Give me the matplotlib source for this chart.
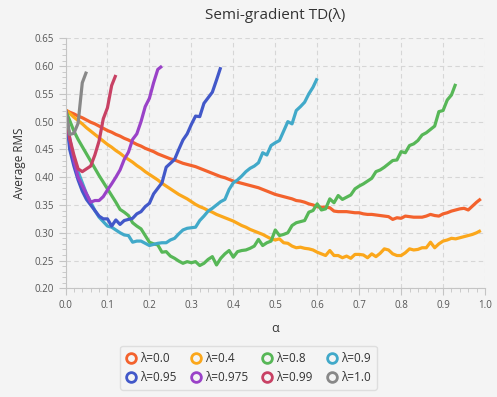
import numpy as np
import matplotlib.pyplot as plt
from matplotlib.lines import Line2D
from matplotlib.ticker import MultipleLocator, FormatStrFormatter

# DATA
# ============================================================================
alphas = np.round(np.arange(0, 1.0, 0.01), 2)

labels = ['λ=0.0', 'λ=0.4', 'λ=0.8', 'λ=0.9',
          'λ=0.95', 'λ=0.975', 'λ=0.99', 'λ=1.0']

rms_00 = [0.521, 0.517, 0.514, 0.510, 0.507, 0.503, 0.499, 0.496, 0.492, 0.488,
          0.484, 0.481, 0.477, 0.474, 0.470, 0.467, 0.463, 0.459, 0.456, 0.452,
          0.449, 0.446, 0.442, 0.439, 0.436, 0.433, 0.431, 0.428, 0.425, 0.423,
          0.421, 0.419, 0.416, 0.413, 0.410, 0.407, 0.404, 0.401, 0.399, 0.396,
          0.393, 0.391, 0.389, 0.387, 0.385, 0.383, 0.381, 0.378, 0.375, 0.372,
          0.369, 0.367, 0.365, 0.363, 0.361, 0.358, 0.357, 0.355, 0.352, 0.350,
          0.347, 0.346, 0.346, 0.345, 0.339, 0.338, 0.338, 0.338, 0.337, 0.336,
          0.336, 0.334, 0.333, 0.333, 0.332, 0.331, 0.330, 0.329, 0.324, 0.327,
          0.326, 0.330, 0.329, 0.328, 0.328, 0.328, 0.330, 0.333, 0.331, 0.330,
          0.334, 0.336, 0.339, 0.341, 0.343, 0.344, 0.341, 0.348, 0.355, 0.361]

rms_04 = [0.521, 0.515, 0.508, 0.502, 0.496, 0.489, 0.483, 0.477, 0.471, 0.465,
          0.459, 0.454, 0.448, 0.443, 0.437, 0.432, 0.427, 0.421, 0.416, 0.410,
          0.405, 0.400, 0.395, 0.389, 0.384, 0.379, 0.374, 0.369, 0.365, 0.361,
          0.356, 0.351, 0.347, 0.344, 0.340, 0.337, 0.333, 0.330, 0.327, 0.324,
          0.321, 0.317, 0.313, 0.310, 0.306, 0.303, 0.300, 0.297, 0.293, 0.289,
          0.287, 0.289, 0.282, 0.281, 0.276, 0.273, 0.274, 0.272, 0.271, 0.269,
          0.265, 0.262, 0.259, 0.268, 0.259, 0.259, 0.255, 0.258, 0.254, 0.261,
          0.261, 0.260, 0.255, 0.262, 0.257, 0.263, 0.271, 0.269, 0.262, 0.259,
          0.259, 0.264, 0.271, 0.269, 0.270, 0.273, 0.273, 0.283, 0.273, 0.280,
          0.285, 0.287, 0.290, 0.289, 0.291, 0.293, 0.295, 0.297, 0.300, 0.304]

rms_08 = [0.521, 0.502, 0.483, 0.468, 0.455, 0.442, 0.429, 0.416, 0.403, 0.391,
          0.379, 0.367, 0.355, 0.342, 0.337, 0.331, 0.318, 0.312, 0.307, 0.295,
          0.283, 0.280, 0.278, 0.265, 0.266, 0.258, 0.254, 0.249, 0.245, 0.248,
          0.246, 0.248, 0.241, 0.245, 0.252, 0.257, 0.242, 0.254, 0.262, 0.268,
          0.256, 0.266, 0.268, 0.269, 0.272, 0.276, 0.288, 0.277, 0.282, 0.285,
          0.305, 0.295, 0.297, 0.300, 0.313, 0.318, 0.320, 0.322, 0.337, 0.340,
          0.352, 0.341, 0.343, 0.361, 0.354, 0.367, 0.360, 0.364, 0.368, 0.379,
          0.384, 0.388, 0.393, 0.398, 0.410, 0.413, 0.418, 0.424, 0.430, 0.431,
          0.446, 0.444, 0.457, 0.460, 0.466, 0.476, 0.480, 0.486, 0.492, 0.518,
          0.520, 0.539, 0.548, 0.568]

rms_09 = [0.521, 0.460, 0.430, 0.410, 0.390, 0.370, 0.355, 0.340, 0.328, 0.320,
          0.312, 0.310, 0.305, 0.300, 0.296, 0.295, 0.283, 0.285, 0.285, 0.281,
          0.277, 0.279, 0.281, 0.282, 0.282, 0.287, 0.290, 0.298, 0.305, 0.308,
          0.309, 0.310, 0.322, 0.330, 0.339, 0.344, 0.350, 0.356, 0.360, 0.378,
          0.390, 0.395, 0.402, 0.410, 0.416, 0.420, 0.426, 0.444, 0.440, 0.457,
          0.462, 0.466, 0.483, 0.500, 0.496, 0.520, 0.527, 0.535, 0.550, 0.562,
          0.578]

rms_095 = [0.521, 0.450, 0.420, 0.395, 0.375, 0.360, 0.350, 0.340, 0.330, 0.325,
           0.325, 0.312, 0.323, 0.315, 0.322, 0.324, 0.326, 0.334, 0.338, 0.347,
           0.353, 0.370, 0.380, 0.390, 0.418, 0.425, 0.432, 0.450, 0.467, 0.478,
           0.495, 0.510, 0.509, 0.533, 0.543, 0.553, 0.575, 0.598]

rms_0975 = [0.521, 0.470, 0.430, 0.400, 0.385, 0.370, 0.355, 0.358, 0.358, 0.365,
            0.377, 0.388, 0.400, 0.413, 0.432, 0.445, 0.468, 0.478, 0.500, 0.527,
            0.542, 0.570, 0.594, 0.600]

rms_099 = [0.521, 0.470, 0.440, 0.415, 0.410, 0.415, 0.420, 0.440, 0.465, 0.505,
           0.525, 0.565, 0.584]

rms_10 = [0.521, 0.477, 0.479, 0.497, 0.570, 0.590]

series = [rms_00, rms_04, rms_08, rms_09, rms_095, rms_0975, rms_099, rms_10]
colors = ['#f3622d', '#fba71b', '#57b757', '#41a9c9',
          '#4258c9', '#9a42c8', '#c84164', '#888888']
# ============================================================================

bg = '#f4f4f4'
plt.rcParams['font.family'] = ['Open Sans', 'DejaVu Sans']

fig = plt.figure(figsize=(4.97, 3.97), dpi=100, facecolor=bg)
ax = fig.add_axes([0.1318, 0.2738, 0.8441, 0.6297], facecolor=bg)

for vals, col in zip(series, colors):
    ax.plot(alphas[:len(vals)], vals, color=col, linewidth=2.3,
            solid_joinstyle='round', solid_capstyle='butt')

ax.set_xlim(0, 1.0)
ax.set_ylim(0.20, 0.65)
ax.xaxis.set_major_locator(MultipleLocator(0.1))
ax.xaxis.set_minor_locator(MultipleLocator(0.02))
ax.yaxis.set_major_locator(MultipleLocator(0.05))
ax.yaxis.set_minor_locator(MultipleLocator(0.01))
ax.xaxis.set_major_formatter(FormatStrFormatter('%.1f'))
ax.yaxis.set_major_formatter(FormatStrFormatter('%.2f'))

ax.grid(True, which='major', color='#d6d6d6', linestyle=(0, (4, 3)), linewidth=0.8)
for s in ['top', 'right']:
    ax.spines[s].set_visible(False)
for s in ['left', 'bottom']:
    ax.spines[s].set_color('#c4c4c4')
ax.tick_params(which='major', length=5, color='#c4c4c4', labelsize=7, labelcolor='#555555')
ax.tick_params(which='minor', length=3, color='#c4c4c4')

ax.set_title('Semi-gradient TD(λ)', fontsize=11, color='#333333', pad=14)
ax.set_xlabel('α', fontsize=9, color='#333333', labelpad=8)
ax.set_ylabel('Average RMS', fontsize=8.5, color='#333333', labelpad=6)

# legend fills column by column, so reorder to get the rows right
order = [0, 4, 1, 5, 2, 6, 3, 7]
handles = [Line2D([], [], linestyle='none', marker='o', markersize=7,
                  markerfacecolor=bg, markeredgecolor=colors[i], markeredgewidth=2)
           for i in order]
leg = fig.legend(handles, [labels[i] for i in order], ncol=4, loc='upper center',
                 bbox_to_anchor=(0.50, 1 - 340 / 397), fontsize=8.5,
                 frameon=True, facecolor=bg, edgecolor='#d9d9d9',
                 handlelength=0.8, handletextpad=0.4, columnspacing=1.2,
                 borderpad=0.5, labelspacing=0.5, fancybox=True)
for t in leg.get_texts():
    t.set_color('#333333')

plt.savefig('out.png', dpi=100, facecolor=bg)
